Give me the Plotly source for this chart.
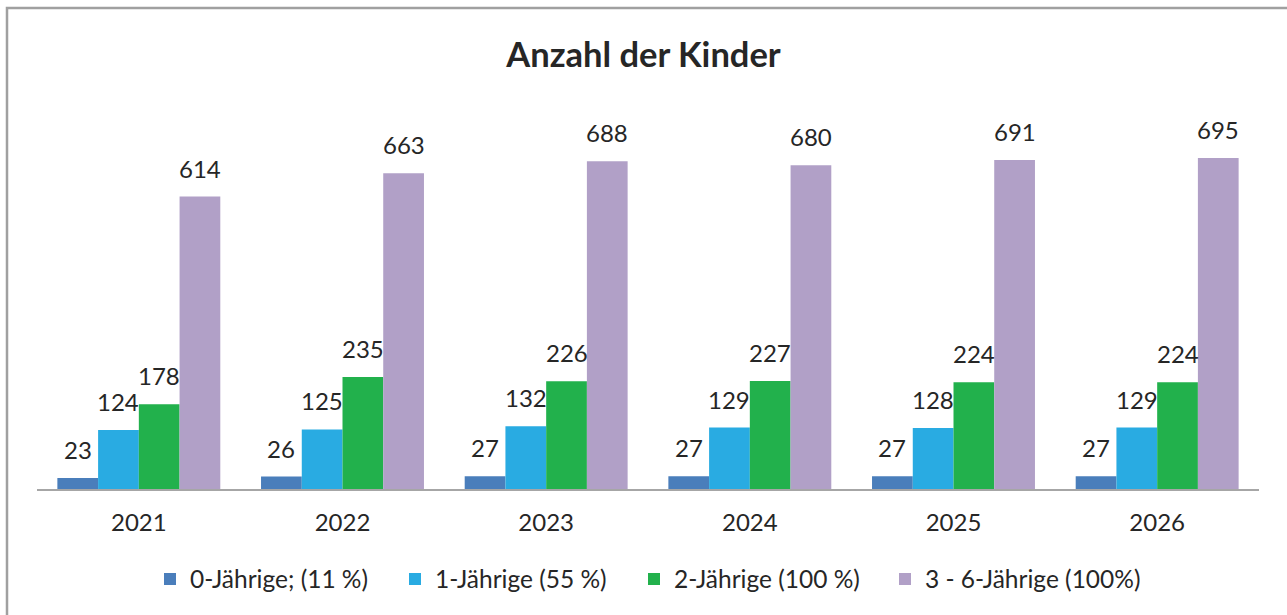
import plotly.graph_objects as go

years = ["2021", "2022", "2023", "2024", "2025", "2026"]
series_names = ["0-Jährige; (11 %)", "1-Jährige (55 %)", "2-Jährige (100 %)", "3 - 6-Jährige (100%)"]
v0 = [23, 26, 27, 27, 27, 27]
v1 = [124, 125, 132, 129, 128, 129]
v2 = [178, 235, 226, 227, 224, 224]
v3 = [614, 663, 688, 680, 691, 695]
colors = ["#4A7EBB", "#29ABE2", "#22B14C", "#B1A0C7"]
legend_widths = [200, 194, 206, 210]

FONT = "Lato"
W, H = 1287, 615
l, r, t, b = 37, 28, 108, 126
pw = W - l - r
ph = H - t - b
BARGAP = 0.2
n_series = 4
bar_px = pw / len(years) * (1 - BARGAP) / n_series

fig = go.Figure()
annotations = []
for i, (name, vals, col, lw) in enumerate(zip(series_names, [v0, v1, v2, v3], colors, legend_widths)):
    fig.add_trace(go.Bar(
        x=years, y=vals, name=name,
        marker=dict(color=col, line=dict(width=0)),
        legendwidth=lw,
    ))
    for j, yv in enumerate(vals):
        annotations.append(dict(
            x=j, y=yv, xref="x", yref="y", text=str(yv), showarrow=False,
            xanchor="center", yanchor="bottom",
            xshift=(i - (n_series - 1) / 2) * bar_px, yshift=12,
            font=dict(family=FONT, size=24, color="#262626"),
        ))

fig.update_layout(
    width=W, height=H,
    margin=dict(l=l, r=r, t=t, b=b),
    paper_bgcolor="white", plot_bgcolor="white",
    barmode="group", bargap=BARGAP, bargroupgap=0,
    title=dict(text="<b>Anzahl der Kinder</b>", x=0.5, xanchor="center",
               y=1 - 55 / H, yanchor="middle",
               font=dict(family=FONT, size=34.5, color="#262626")),
    xaxis=dict(type="category", range=[-0.5, len(years) - 0.5],
               showline=True, linecolor="#A6A6A6", linewidth=2, ticks="",
               tickfont=dict(family=FONT, size=24, color="#262626"),
               ticklabelstandoff=11,
               showgrid=False, zeroline=False),
    yaxis=dict(range=[0, 800], visible=False, showgrid=False, zeroline=False),
    legend=dict(orientation="h", x=(150 - l) / pw, xanchor="left", y=-(579 - 489) / ph,
                yanchor="middle", font=dict(family=FONT, size=24.5, color="#262626"),
                itemwidth=30, traceorder="normal"),
    annotations=annotations,
    shapes=[dict(type="rect", xref="paper", yref="paper",
                 x0=(7 - l) / pw, x1=(W + 10 - l) / pw,
                 y0=-(H + 10 - (H - b)) / ph, y1=((H - b) - 8) / ph,
                 line=dict(color="#A0A0A0", width=2.5), fillcolor="rgba(0,0,0,0)",
                 layer="below")],
)

fig.write_html("out.html", config={"displayModeBar": False},
               post_script="document.body.style.margin='0';document.body.style.overflow='hidden';")
